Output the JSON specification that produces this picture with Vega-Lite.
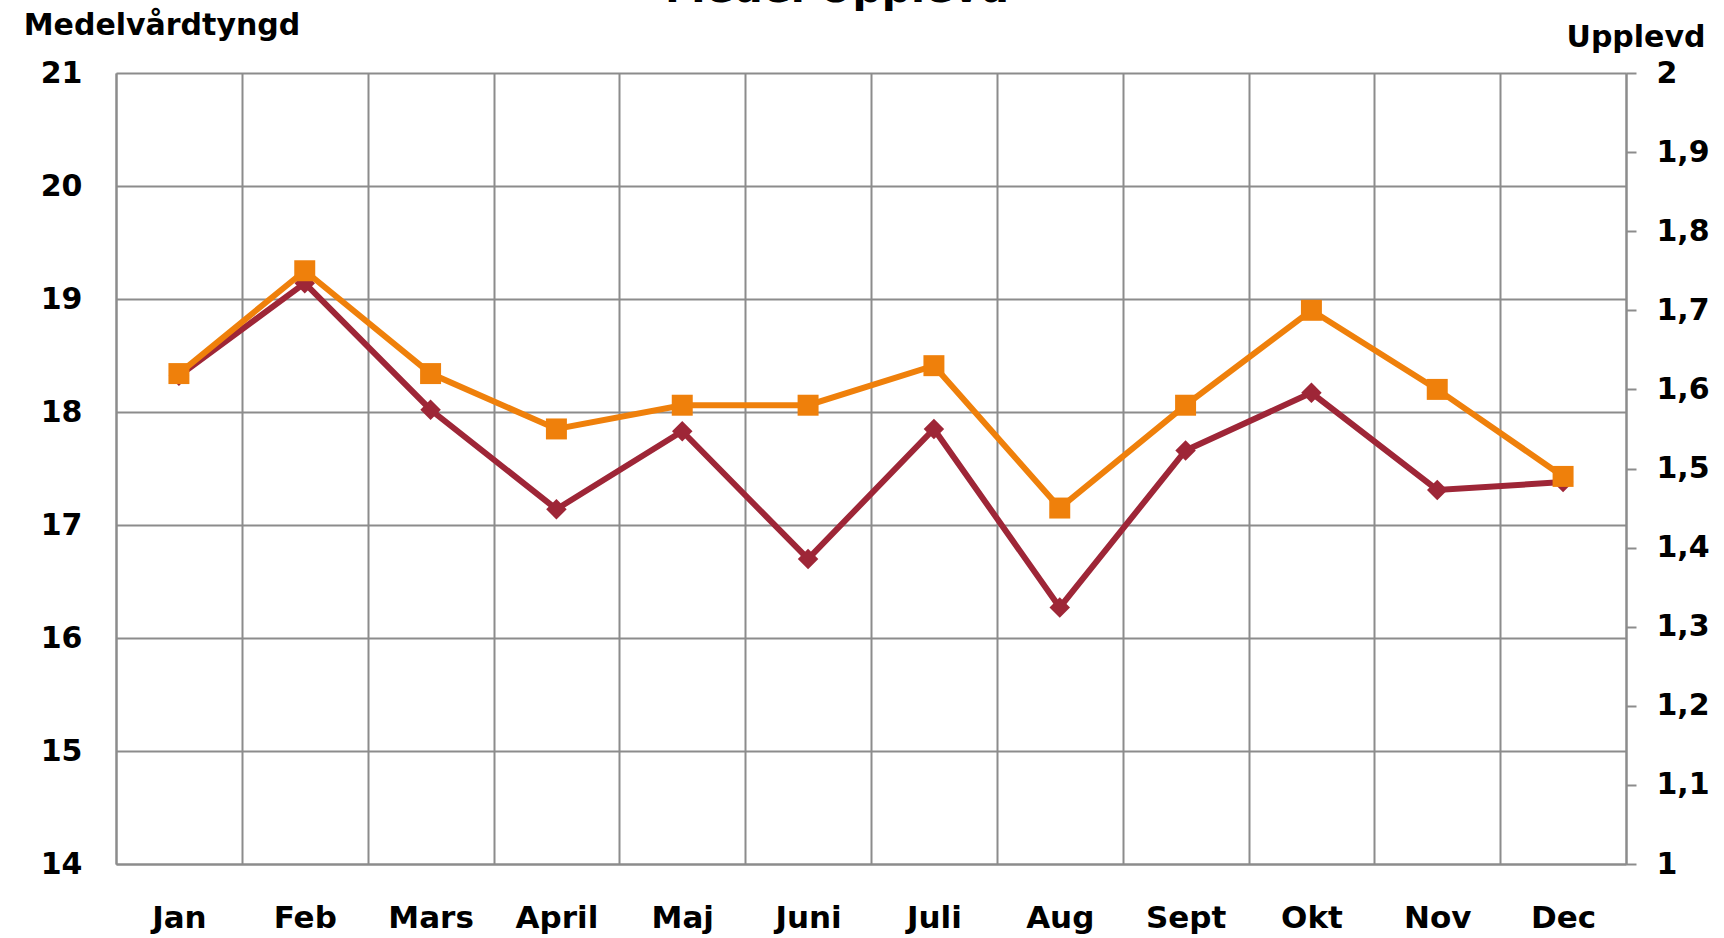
{
  "$schema": "https://vega.github.io/schema/vega-lite/v6.json",
  "width": 1510,
  "height": 791,
  "autosize": {"type": "none"},
  "padding": {"left": 116, "top": 73, "right": 98, "bottom": 74},
  "background": "white",
  "title": {
    "text": "Medel Upplevd",
    "fontSize": 41,
    "font": "DejaVu Sans",
    "fontWeight": "bold",
    "color": "black",
    "anchor": "middle",
    "frame": "group",
    "baseline": "alphabetic",
    "offset": -32,
    "dx": -34
  },
  "config": {
    "view": {"stroke": null},
    "axis": {
      "labelFont": "DejaVu Sans",
      "labelFontWeight": "bold",
      "labelFontSize": 30,
      "labelColor": "black",
      "titleFont": "DejaVu Sans",
      "titleFontWeight": "bold",
      "titleFontSize": 30,
      "titleColor": "black",
      "domainColor": "#8c8c8c",
      "domainWidth": 2,
      "gridColor": "#8c8c8c",
      "gridWidth": 2,
      "gridOpacity": 1,
      "tickColor": "#8c8c8c",
      "tickWidth": 2
    }
  },
  "data": {
    "values": [
      {"month": "Jan", "medel": 18.32, "upplevd": 1.62},
      {"month": "Feb", "medel": 19.14, "upplevd": 1.75},
      {"month": "Mars", "medel": 18.02, "upplevd": 1.62},
      {"month": "April", "medel": 17.14, "upplevd": 1.55},
      {"month": "Maj", "medel": 17.83, "upplevd": 1.58},
      {"month": "Juni", "medel": 16.70, "upplevd": 1.58},
      {"month": "Juli", "medel": 17.85, "upplevd": 1.63},
      {"month": "Aug", "medel": 16.27, "upplevd": 1.45},
      {"month": "Sept", "medel": 17.66, "upplevd": 1.58},
      {"month": "Okt", "medel": 18.17, "upplevd": 1.70},
      {"month": "Nov", "medel": 17.31, "upplevd": 1.60},
      {"month": "Dec", "medel": 17.38, "upplevd": 1.49}
    ]
  },
  "encoding": {
    "x": {
      "field": "month",
      "type": "ordinal",
      "sort": null,
      "bandPosition": 0.5,
      "scale": {"type": "band", "paddingInner": 0, "paddingOuter": 0},
      "axis": {
        "title": null,
        "labelAngle": 0,
        "labelFontSize": 31,
        "grid": true,
        "tickBand": "extent",
        "ticks": false,
        "tickSize": 0,
        "labelPadding": 39
      }
    }
  },
  "layer": [
    {
      "encoding": {
        "y": {
          "field": "medel",
          "type": "quantitative",
          "scale": {"domain": [14, 21], "nice": false, "zero": false},
          "axis": {
            "orient": "left",
            "values": [14, 15, 16, 17, 18, 19, 20, 21],
            "grid": true,
            "ticks": false,
            "tickSize": 0,
            "labelPadding": 34,
            "title": "Medelvårdtyngd",
            "titleAngle": 0,
            "titleAlign": "center",
            "titleBaseline": "alphabetic",
            "titleX": 45.5,
            "titleY": -38.5
          }
        }
      },
      "layer": [
        {"mark": {"type": "line", "color": "#9E2637", "strokeWidth": 6}},
        {"mark": {"type": "point", "shape": "diamond", "filled": true, "size": 420, "color": "#9E2637", "opacity": 1}}
      ]
    },
    {
      "encoding": {
        "y": {
          "field": "upplevd",
          "type": "quantitative",
          "scale": {"domain": [1, 2], "nice": false, "zero": false},
          "axis": {
            "orient": "right",
            "values": [1, 1.1, 1.2, 1.3, 1.4, 1.5, 1.6, 1.7, 1.8, 1.9, 2],
            "format": "~g",
            "labelExpr": "replace(datum.label, '.', ',')",
            "grid": false,
            "tickSize": 10,
            "labelPadding": 20,
            "title": "Upplevd",
            "titleAngle": 0,
            "titleAlign": "center",
            "titleBaseline": "alphabetic",
            "titleX": 9.5,
            "titleY": -27
          }
        }
      },
      "layer": [
        {"mark": {"type": "line", "color": "#EF800B", "strokeWidth": 6}},
        {"mark": {"type": "point", "shape": "square", "filled": true, "size": 440, "color": "#EF800B", "opacity": 1}}
      ]
    }
  ],
  "resolve": {"scale": {"y": "independent"}}
}
